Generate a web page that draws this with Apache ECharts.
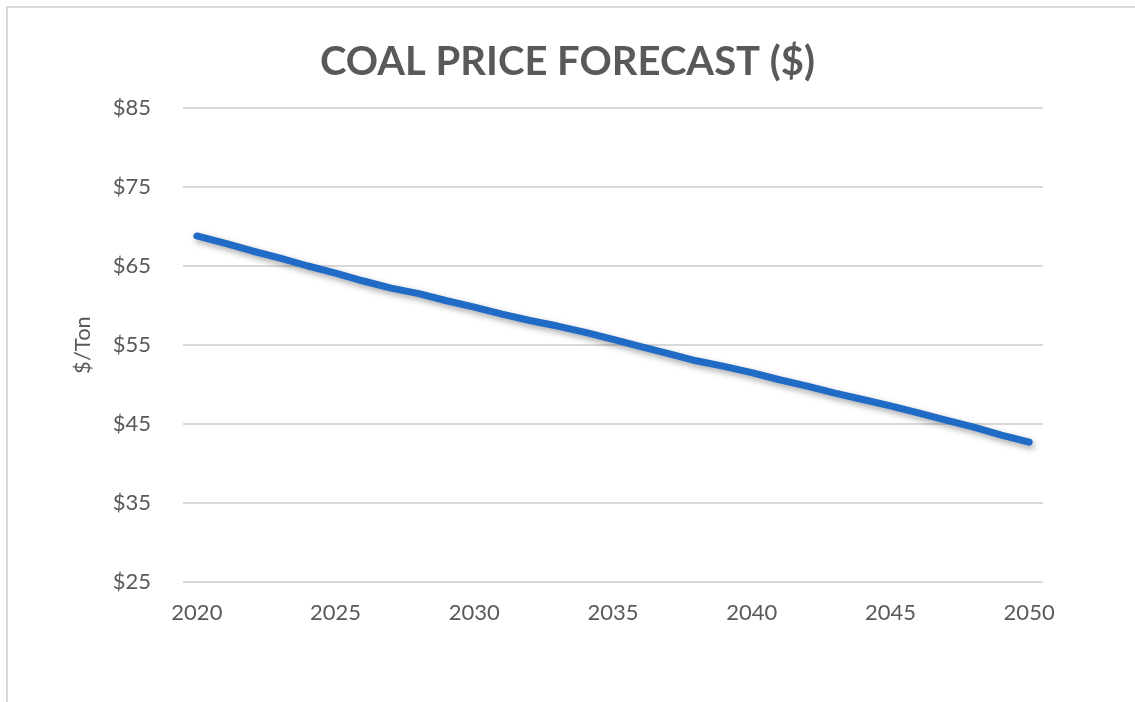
<!DOCTYPE html>
<html>
<head>
<meta charset="utf-8">
<script src="https://cdn.jsdelivr.net/npm/echarts@6/dist/echarts.min.js"></script>
<style>
html,body{margin:0;padding:0;background:#fff;}
#chart{width:1135px;height:702px;}
</style>
</head>
<body>
<div id="chart"></div>
<script>
const years = ['2020','2021','2022','2023','2024','2025','2026','2027','2028','2029','2030','2031','2032','2033','2034','2035','2036','2037','2038','2039','2040','2041','2042','2043','2044','2045','2046','2047','2048','2049','2050'];
const prices = [68.8,67.9,66.9,66.0,65.0,64.1,63.1,62.2,61.5,60.6,59.8,58.9,58.1,57.4,56.6,55.7,54.8,53.9,53.0,52.3,51.5,50.6,49.8,48.9,48.1,47.3,46.4,45.5,44.6,43.6,42.7];
const titleText = 'COAL PRICE FORECAST ($)';
const yAxisName = '$/Ton';

const chart = echarts.init(document.getElementById('chart'), null, {renderer:'canvas'});
chart.setOption({
  animation:false,
  backgroundColor:'#fff',
  title:{
    text:titleText, left:'center', top:37,
    textStyle:{fontFamily:'Lato', fontWeight:'bold', fontSize:40, color:'#595959'}
  },
  graphic:[{
    type:'polyline', silent:true,
    shape:{points:[[7,702],[7,7],[1135,7]]},
    style:{stroke:'#d9d9d9', lineWidth:2, fill:null}
  }],
  grid:{left:183, right:92, top:108, bottom:120, containLabel:false},
  xAxis:{
    type:'category', data:years, boundaryGap:true,
    axisLine:{show:false}, axisTick:{show:false},
    axisLabel:{interval:4, margin:20, fontFamily:'Lato', fontSize:22, color:'#595959'},
    splitLine:{show:false}
  },
  yAxis:{
    type:'value', min:25, max:85, interval:10,
    name:yAxisName, nameLocation:'middle', nameGap:89, nameRotate:90,
    nameTextStyle:{fontFamily:'Lato', fontSize:22, color:'#595959'},
    axisLine:{show:false}, axisTick:{show:false},
    axisLabel:{margin:32, fontFamily:'Lato', fontSize:22, color:'#595959', formatter:v=>'$'+v},
    splitLine:{lineStyle:{color:'#d9d9d9', width:2}}
  },
  series:[{
    type:'line', data:prices, symbol:'none', smooth:false,
    lineStyle:{color:'#1f6bc6', width:7, cap:'round', join:'round',
      shadowColor:'rgba(0,0,0,0.35)', shadowBlur:6, shadowOffsetX:2, shadowOffsetY:3}
  }]
});
</script>
</body>
</html>
